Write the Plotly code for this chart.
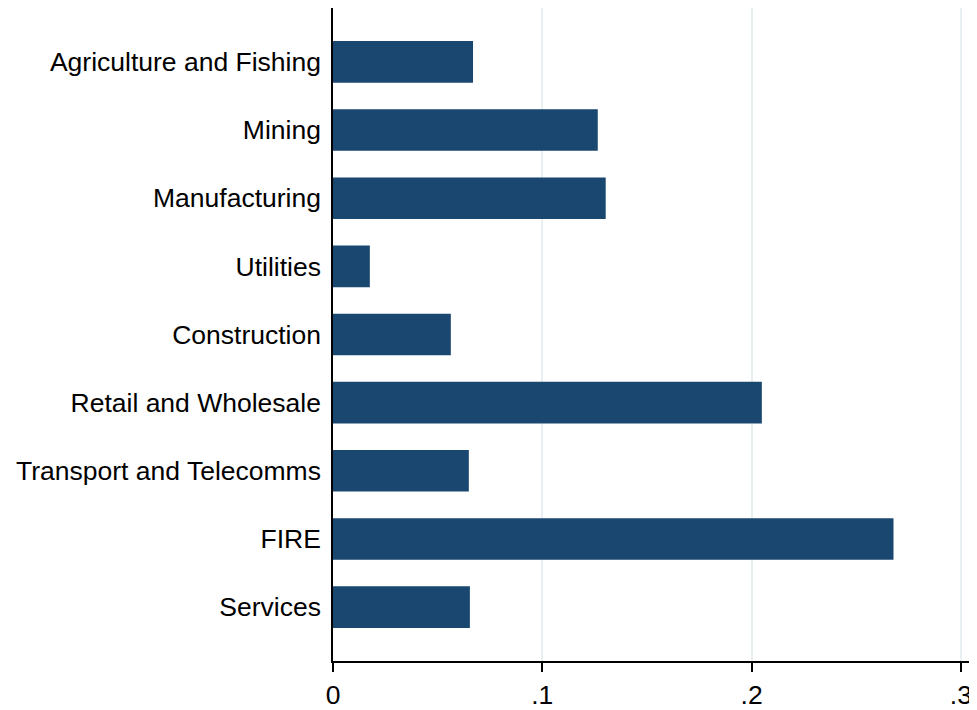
import plotly.graph_objects as go

# share by sector
sectors = ["Agriculture and Fishing", "Mining", "Manufacturing", "Utilities",
           "Construction", "Retail and Wholesale", "Transport and Telecomms",
           "FIRE", "Services"]
shares = [0.0669, 0.1265, 0.1303, 0.0176, 0.0563, 0.2049, 0.0649, 0.2678, 0.0654]

tick_vals = [0, 0.1, 0.2, 0.3]
tick_text = ["0", ".1", ".2", ".3"]

fig = go.Figure(go.Bar(
    x=shares, y=sectors, orientation="h",
    width=0.61,
    marker=dict(color="#1a476f", line=dict(width=0)),
))

# page body has an 8px margin, so the figure is sized to fit inside the window
fig.update_layout(
    width=969, height=702,
    margin=dict(l=325, r=0, t=0, b=41),
    plot_bgcolor="white", paper_bgcolor="white",
    font=dict(family="Liberation Sans, Arial, sans-serif", size=26.5, color="black"),
    showlegend=False,
)

fig.update_xaxes(
    range=[0, 0.3077],
    tickvals=tick_vals, ticktext=tick_text,
    ticks="outside", ticklen=9, tickwidth=1.5, tickcolor="black",
    showline=True, linecolor="black", linewidth=1.5,
    showgrid=True, gridcolor="#e7eff3", gridwidth=2,
    zeroline=False,
)

fig.update_yaxes(
    type="category",
    range=[8.79, -0.79],
    ticks="", ticklabelstandoff=5,
    showline=True, linecolor="black", linewidth=1.5,
    showgrid=False, zeroline=False,
)

fig.write_html("out.html")
